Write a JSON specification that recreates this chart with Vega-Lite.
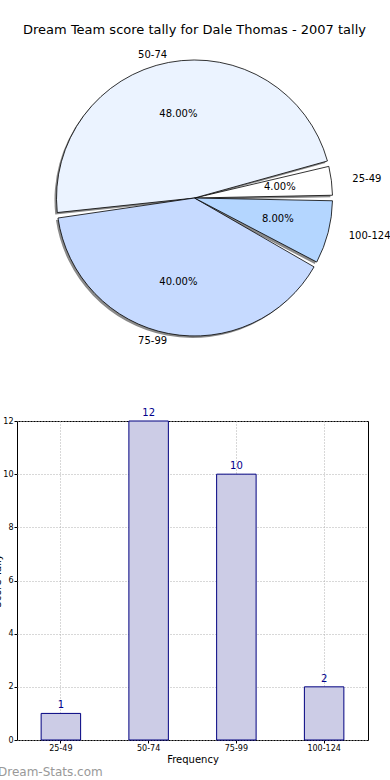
{
  "$schema": "https://vega.github.io/schema/vega-lite/v6.json",
  "padding": {"left": -8, "top": 23, "right": 0, "bottom": 2},
  "background": "white",
  "config": {"font": "DejaVu Sans", "view": {"stroke": null}},
  "datasets": {
    "tally": [
      {"range": "25-49", "count": 1, "pct": "4.00%", "order": 1},
      {"range": "50-74", "count": 12, "pct": "48.00%", "order": 2},
      {"range": "75-99", "count": 10, "pct": "40.00%", "order": 3},
      {"range": "100-124", "count": 2, "pct": "8.00%", "order": 4}
    ]
  },
  "title": {"text": "Dream-Stats.com", "orient": "bottom", "anchor": "start", "frame": "group", "dx": -19, "color": "#999999", "fontSize": 12, "fontWeight": "normal", "offset": 2},
  "bounds": "flush",
  "spacing": 75,
  "vconcat": [
    {
      "width": 355,
      "height": 296,
      "title": {"text": "Dream Team score tally for Dale Thomas - 2007 tally", "fontSize": 13, "fontWeight": "normal", "offset": 7},
      "data": {"name": "tally"},
      "encoding": {
        "theta": {"field": "count", "type": "quantitative", "stack": true, "scale": {"range": [1.5708, -4.7124]}},
        "order": {"field": "order", "type": "quantitative"}
      },
      "layer": [
        {"mark": {"type": "arc", "outerRadius": 138, "padAngle": 0.04, "fill": "#8a8a8a", "xOffset": -2, "yOffset": 2}},
        {
          "mark": {"type": "arc", "outerRadius": 138, "padAngle": 0.04, "stroke": "black", "strokeWidth": 0.8},
          "encoding": {
            "color": {"field": "range", "type": "nominal", "scale": {"domain": ["25-49", "50-74", "75-99", "100-124"], "range": ["#ffffff", "#ebf3ff", "#c6daff", "#b4d6ff"]}, "legend": null}
          }
        },
        {"mark": {"type": "text", "radius": 86, "fontSize": 10, "color": "black"}, "encoding": {"text": {"field": "pct"}}},
        {
          "mark": {"type": "text", "radius": 152, "dx": 7, "fontSize": 10, "align": "left", "color": "black"},
          "encoding": {"text": {"condition": {"test": "datum.order == 1 || datum.order == 4", "field": "range"}, "value": ""}}
        },
        {
          "mark": {"type": "text", "radius": 146, "fontSize": 10, "align": "right", "color": "black"},
          "encoding": {"text": {"condition": {"test": "datum.order == 2 || datum.order == 3", "field": "range"}, "value": ""}}
        }
      ]
    },
    {
      "width": 351,
      "height": 319,
      "view": {"stroke": "black", "strokeWidth": 1},
      "data": {"name": "tally"},
      "encoding": {
        "x": {
          "field": "range", "type": "nominal", "sort": ["25-49", "50-74", "75-99", "100-124"],
          "scale": {"paddingInner": 0, "paddingOuter": 0},
          "axis": {"title": "Frequency", "labelAngle": 0, "labelFontSize": 8, "labelColor": "black", "titleFontSize": 10, "titleFontWeight": "normal", "titleColor": "black", "grid": true, "gridDash": [1, 2], "gridColor": "#b0b0b0", "domain": false, "tickSize": 3, "tickColor": "black", "labelPadding": 1, "titlePadding": 2, "bandPosition": 0.5}
        },
        "y": {
          "field": "count", "type": "quantitative",
          "scale": {"domain": [0, 12], "nice": false},
          "axis": {"title": "Score Tally", "values": [0, 2, 4, 6, 8, 10, 12], "labelFontSize": 8, "labelColor": "black", "titleFontSize": 10, "titleFontWeight": "normal", "titleColor": "black", "grid": true, "gridDash": [1, 2], "gridColor": "#b0b0b0", "domain": false, "tickSize": 3, "tickColor": "black", "labelPadding": 1, "titlePadding": 0}
        }
      },
      "layer": [
        {"mark": {"type": "bar", "width": {"band": 0.45}, "fill": "#ccccE6", "stroke": "#000080", "strokeWidth": 1}},
        {"mark": {"type": "text", "baseline": "bottom", "dy": -3, "fontSize": 10, "color": "#00008b"}, "encoding": {"text": {"field": "count", "type": "quantitative"}}}
      ]
    }
  ]
}
